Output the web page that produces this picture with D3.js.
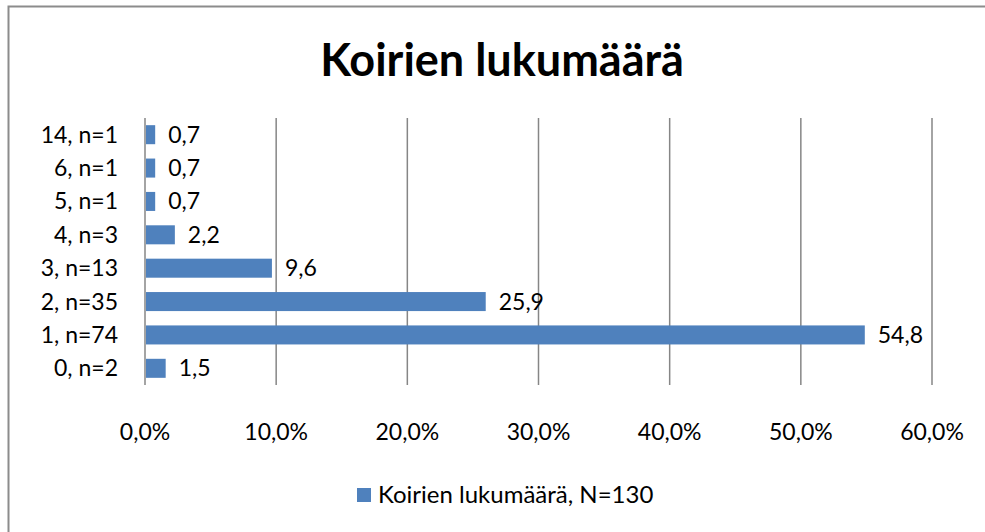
<!DOCTYPE html>
<html>
<head>
<meta charset="utf-8">
<script src="https://cdn.jsdelivr.net/npm/d3@7"></script>
<style>
  body { margin: 0; background: #fff; }
  text { font-family: Lato, "Open Sans", sans-serif; fill: #000; }
</style>
</head>
<body>
<svg id="chart" width="985" height="532"></svg>
<script>
// data
const categories = ["0, n=2", "1, n=74", "2, n=35", "3, n=13", "4, n=3", "5, n=1", "6, n=1", "14, n=1"];
const values = [1.5, 54.8, 25.9, 9.6, 2.2, 0.7, 0.7, 0.7];
const ticks = [0, 10, 20, 30, 40, 50, 60];
const title = "Koirien lukumäärä";
const seriesName = "Koirien lukumäärä, N=130";

const data = categories.map((c, i) => ({cat: c, val: values[i]}));

const svg = d3.select("#chart"),
    margin = {top: 118, left: 145, right: 53, bottom: 147},
    width = 985, height = 532;

// outer frame (right and bottom edges fall outside the window)
svg.append("rect")
    .attr("x", 8.5).attr("y", 6.5)
    .attr("width", 990).attr("height", 540)
    .attr("fill", "none")
    .attr("stroke", "#8c8c8c")
    .attr("stroke-width", 2);

svg.append("text")
    .attr("x", 502).attr("y", 76)
    .attr("text-anchor", "middle")
    .style("font-size", "45px")
    .style("font-weight", "bold")
    .text(title);

var x = d3.scaleLinear()
    .domain([0, 60])
    .range([margin.left, width - margin.right]);

var y = d3.scaleBand()
    .domain(categories.slice().reverse())
    .range([margin.top, height - margin.bottom])
    .paddingInner(0.43)
    .paddingOuter(0.215);

// gridlines
svg.append("g")
    .selectAll("line")
    .data(ticks.slice(1))
    .enter()
    .append("line")
    .attr("x1", d => x(d)).attr("x2", d => x(d))
    .attr("y1", margin.top).attr("y2", height - margin.bottom)
    .attr("stroke", "#868686")
    .attr("stroke-width", 1.5);

svg.append("g")
    .selectAll("rect")
    .data(data)
    .enter()
    .append("rect")
    .attr("x", x(0) + 1)
    .attr("y", d => y(d.cat))
    .attr("width", d => x(d.val) - x(0))
    .attr("height", y.bandwidth())
    .attr("fill", "#4f81bd");

// axis line
svg.append("line")
    .attr("x1", x(0)).attr("x2", x(0))
    .attr("y1", margin.top).attr("y2", height - margin.bottom)
    .attr("stroke", "#868686")
    .attr("stroke-width", 1.5);

// value labels
svg.append("g")
    .selectAll("text")
    .data(data)
    .enter()
    .append("text")
    .attr("x", d => x(d.val) + 14)
    .attr("y", d => y(d.cat) + y.bandwidth() / 2)
    .attr("dy", "0.35em")
    .style("font-size", "23px")
    .text(d => d3.format(".1f")(d.val).replace(".", ","));

// category labels
svg.append("g")
    .selectAll("text")
    .data(categories)
    .enter()
    .append("text")
    .attr("x", 118)
    .attr("y", d => y(d) + y.bandwidth() / 2)
    .attr("dy", "0.35em")
    .attr("text-anchor", "end")
    .style("font-size", "23px")
    .text(d => d);

// tick labels
svg.append("g")
    .selectAll("text")
    .data(ticks)
    .enter()
    .append("text")
    .attr("x", d => x(d))
    .attr("y", 432)
    .attr("dy", "0.35em")
    .attr("text-anchor", "middle")
    .style("font-size", "23px")
    .text(d => d3.format(".1f")(d).replace(".", ",") + "%");

// legend
svg.append("rect")
    .attr("x", 357).attr("y", 488)
    .attr("width", 14).attr("height", 14)
    .attr("fill", "#4f81bd");
svg.append("text")
    .attr("x", 378).attr("y", 495)
    .attr("dy", "0.35em")
    .style("font-size", "24px")
    .text(seriesName);
</script>
</body>
</html>
